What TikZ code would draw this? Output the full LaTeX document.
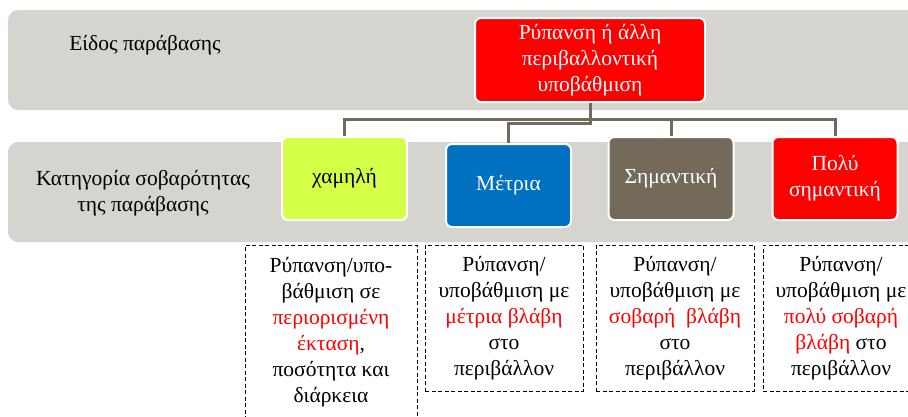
\documentclass[tikz,border=0pt]{standalone}
\usepackage{fontspec}
\setmainfont{Liberation Serif}
\usetikzlibrary{calc}

\begin{document}
\begin{tikzpicture}[
  x=1pt, y=-1pt,
  every node/.style={font=\fontsize{21.5}{26}\selectfont, align=center, inner sep=0pt},
  band/.style={fill=\colorisG, rounded corners=10pt,
    minimum width=920pt, minimum height=100pt},
  level box/.style={draw=white, line width=2pt, rounded corners=6pt,
    minimum width=125pt, minimum height=83pt},
  note/.style={draw=black, dash pattern=on 4pt off 2.5pt, line width=1pt,
    minimum width=158pt, minimum height=146pt},
  link/.style={draw=\colorisT, line width=3pt},
]
%-------------------------------------------------------------
\definecolor{bandgrey}{RGB}{214,212,207}
\definecolor{limegreen}{RGB}{212,255,70}
\definecolor{midblue}{RGB}{0,112,192}
\definecolor{taupe}{RGB}{116,106,91}
\newcommand{\colorisG}{bandgrey}
\newcommand{\colorisL}{limegreen}
\newcommand{\colorisB}{midblue}
\newcommand{\colorisT}{taupe}
\newcommand{\colorisR}{red}

\useasboundingbox (0,0) rectangle (908,416);
\clip (0,0) rectangle (908,416);

%============================================================
\node[band] (B1) at (468,60) {};
\node[band] (B2) at (468,192) {};
\node (T1) at (145,45) {Είδος παράβασης};
\node (T2) at (143,193) {Κατηγορία σοβαρότητας\\της παράβασης};

%============================================================
\node[level box, fill=\colorisR, text=white, minimum width=230pt, minimum height=84pt]
  (root) at (590,60) {Ρύπανση ή άλλη\\περιβαλλοντική\\υποβάθμιση};
\node[level box, fill=\colorisL] (C1) at (344.5,178.5) {χαμηλή};
\node[level box, fill=\colorisB, text=white] (C2) at (508.5,185.5) {Μέτρια};
\node[level box, fill=\colorisT, text=white] (C3) at (671,178.5) {Σημαντική};
\node[level box, fill=\colorisR, text=white] (C4) at (835,178.5) {Πολύ\\σημαντική};

%============================================================
\foreach \c in {C1,C2,C3,C4}
  \draw[link] (root.south) |- ($(root.south)!.5!(\c.north)$) -| (\c.north);

%============================================================
\node[note, minimum width=172pt, minimum height=174pt] (D1) at (331,332)
  {Ρύπανση/υπο-\\βάθμιση σε\\\textcolor{\colorisR}{περιορισμένη}\\\textcolor{\colorisR}{έκταση},\\ποσότητα και\\διάρκεια};
\node[note] (D2) at (504,318)
  {Ρύπανση/\\υποβάθμιση με\\\textcolor{\colorisR}{μέτρια βλάβη}\\στο\\περιβάλλον};
\node[note] (D3) at (675,318)
  {Ρύπανση/\\υποβάθμιση με\\\textcolor{\colorisR}{σοβαρή~~βλάβη}\\στο\\περιβάλλον};
\node[note, minimum width=156pt] (D4) at (841,318)
  {Ρύπανση/\\υποβάθμιση με\\\textcolor{\colorisR}{πολύ σοβαρή}\\\textcolor{\colorisR}{βλάβη} στο\\περιβάλλον};

\end{tikzpicture}
\end{document}
